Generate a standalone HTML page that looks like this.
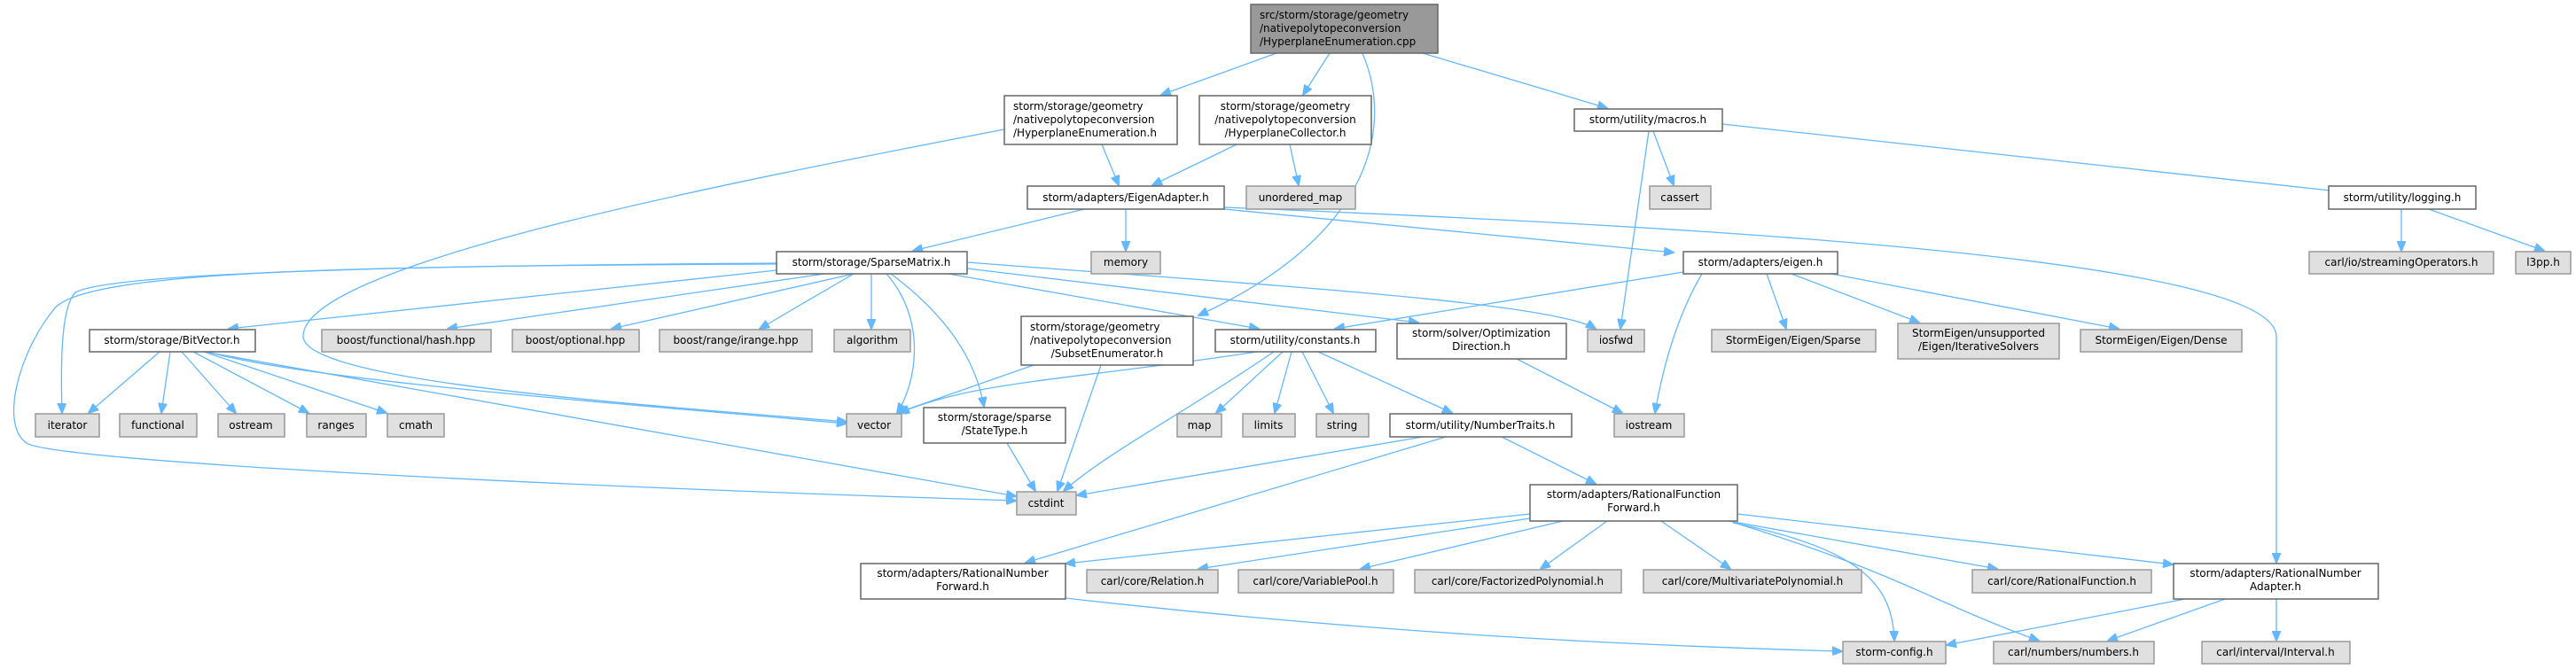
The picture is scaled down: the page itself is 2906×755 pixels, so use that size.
<!DOCTYPE html>
<html><head><meta charset="utf-8"><style>
html,body{margin:0;padding:0;background:#fff;}
svg{display:block;}
text{font-family:"DejaVu Sans","Liberation Sans",sans-serif;font-size:12px;fill:#000;}
.n{fill:#fff;stroke:#666;stroke-width:1.5;}
.e{fill:#e0e0e0;stroke:#999;stroke-width:1.5;}
.r{fill:#999;stroke:#666;stroke-width:1.5;}
path{fill:none;stroke:#63b8ff;stroke-width:1.3;}
</style></head><body>
<svg width="2906" height="755" viewBox="0 0 2906 755" xmlns="http://www.w3.org/2000/svg">
<defs><marker id="a" markerWidth="12" markerHeight="10" refX="11" refY="5" orient="auto" markerUnits="userSpaceOnUse"><path d="M0,0 L12,5 L0,10 z" style="fill:#63b8ff;stroke:#63b8ff;stroke-width:1"/></marker></defs>
<g marker-end="url(#a)">
<path d="M1440,60 L1310,107"/>
<path d="M1500,60 L1470,107"/>
<path d="M1537,60 C1575,150 1540,270 1352,356"/>
<path d="M1605,60 L1813,122"/>
<path d="M1243,163 L1262,209"/>
<path d="M1133,146 C800,210 340,300 342,380 C345,430 700,455 955,476"/>
<path d="M1395,163 L1300,209"/>
<path d="M1455,163 L1465,209"/>
<path d="M1860,148 L1828,371"/>
<path d="M1865,148 L1888,209"/>
<path d="M1943,140 L2656,218"/>
<path d="M2709,236 L2709,283"/>
<path d="M2740,236 L2870,283"/>
<path d="M1223,236 L1030,283"/>
<path d="M1270,236 L1270,283"/>
<path d="M1381,236 L1888,285"/>
<path d="M1381,234 C1900,255 2568,290 2568,380 L2568,635"/>
<path d="M876,305 L258,371"/>
<path d="M930,309 L505,371"/>
<path d="M963,309 L690,371"/>
<path d="M963,309 L857,371"/>
<path d="M983,309 L983,371"/>
<path d="M876,297 C400,300 120,310 85,330 C70,345 68,400 70,466"/>
<path d="M876,298 C400,300 90,305 60,350 C20,400 0,480 30,500 C60,520 600,548 1146,565"/>
<path d="M1000,309 C1045,360 1035,430 1012,466"/>
<path d="M1005,309 C1060,350 1100,400 1110,459"/>
<path d="M1070,309 L1420,371"/>
<path d="M1091,303 L1600,364"/>
<path d="M1091,296 C1400,320 1750,340 1800,371"/>
<path d="M180,397 L100,466"/>
<path d="M192,397 L182,466"/>
<path d="M205,397 L266,466"/>
<path d="M218,397 L348,466"/>
<path d="M230,397 L436,466"/>
<path d="M234,397 C350,430 700,455 955,478"/>
<path d="M236,398 L1146,560"/>
<path d="M1166,412 L1012,466"/>
<path d="M1242,412 L1193,554"/>
<path d="M1136,500 L1168,554"/>
<path d="M1418,397 C1200,430 1100,430 1015,466"/>
<path d="M1437,397 C1330,470 1250,510 1200,554"/>
<path d="M1447,397 L1372,466"/>
<path d="M1457,397 L1438,466"/>
<path d="M1469,397 L1504,466"/>
<path d="M1487,397 L1638,466"/>
<path d="M1711,405 L1830,466"/>
<path d="M1899,307 L1506,371"/>
<path d="M1920,309 C1890,360 1875,420 1867,466"/>
<path d="M1993,309 L2015,371"/>
<path d="M2021,309 L2165,364"/>
<path d="M2066,309 L2390,371"/>
<path d="M1605,493 L1215,559"/>
<path d="M1631,493 L1157,635"/>
<path d="M1694,493 L1800,546"/>
<path d="M1726,580 L1202,636"/>
<path d="M1726,585 L1352,642"/>
<path d="M1763,588 L1535,642"/>
<path d="M1813,588 L1738,642"/>
<path d="M1874,588 L1952,642"/>
<path d="M1950,588 L2253,642"/>
<path d="M1960,580 L2451,637"/>
<path d="M1955,590 C2100,620 2135,660 2137,723"/>
<path d="M1957,590 C2150,650 2180,680 2300,723"/>
<path d="M1202,675 C1600,720 1900,730 2078,735"/>
<path d="M2465,676 L2196,728"/>
<path d="M2510,676 L2378,723"/>
<path d="M2568,676 L2568,723"/>
</g>

<rect class="r" x="1411" y="5" width="211" height="55"/>
<text x="1421" y="21">src/storm/storage/geometry</text><text x="1421" y="36">/nativepolytopeconversion</text><text x="1421" y="51">/HyperplaneEnumeration.cpp</text>

<rect class="n" x="1133" y="108" width="195" height="55"/>
<text x="1143" y="124">storm/storage/geometry</text><text x="1143" y="139">/nativepolytopeconversion</text><text x="1143" y="154">/HyperplaneEnumeration.h</text>

<rect class="n" x="1353" y="108" width="194" height="55"/>
<text x="1450" y="124" text-anchor="middle">storm/storage/geometry</text><text x="1450" y="139" text-anchor="middle">/nativepolytopeconversion</text><text x="1450" y="154" text-anchor="middle">/HyperplaneCollector.h</text>

<rect class="n" x="1776" y="123" width="167" height="25"/><text x="1859" y="139" text-anchor="middle">storm/utility/macros.h</text>
<rect class="n" x="1159" y="210" width="222" height="26"/><text x="1270" y="227" text-anchor="middle">storm/adapters/EigenAdapter.h</text>
<rect class="e" x="1406" y="210" width="123" height="26"/><text x="1467" y="227" text-anchor="middle">unordered_map</text>
<rect class="e" x="1861" y="210" width="69" height="26"/><text x="1895" y="227" text-anchor="middle">cassert</text>
<rect class="n" x="2627" y="210" width="166" height="26"/><text x="2710" y="227" text-anchor="middle">storm/utility/logging.h</text>
<rect class="e" x="2605" y="284" width="208" height="25"/><text x="2709" y="300" text-anchor="middle">carl/io/streamingOperators.h</text>
<rect class="e" x="2838" y="284" width="62" height="25"/><text x="2869" y="300" text-anchor="middle">l3pp.h</text>

<rect class="e" x="1231" y="284" width="78" height="25"/><text x="1270" y="300" text-anchor="middle">memory</text>
<rect class="n" x="876" y="284" width="215" height="25"/><text x="983" y="300" text-anchor="middle">storm/storage/SparseMatrix.h</text>
<rect class="n" x="1899" y="284" width="174" height="25"/><text x="1986" y="300" text-anchor="middle">storm/adapters/eigen.h</text>

<rect class="n" x="101" y="372" width="187" height="25"/><text x="194" y="388" text-anchor="middle">storm/storage/BitVector.h</text>
<rect class="e" x="363" y="372" width="191" height="25"/><text x="458" y="388" text-anchor="middle">boost/functional/hash.hpp</text>
<rect class="e" x="578" y="372" width="143" height="25"/><text x="649" y="388" text-anchor="middle">boost/optional.hpp</text>
<rect class="e" x="744" y="372" width="172" height="25"/><text x="830" y="388" text-anchor="middle">boost/range/irange.hpp</text>
<rect class="e" x="941" y="372" width="86" height="25"/><text x="984" y="388" text-anchor="middle">algorithm</text>

<rect class="n" x="1152" y="357" width="194" height="55"/>
<text x="1162" y="373">storm/storage/geometry</text><text x="1162" y="388">/nativepolytopeconversion</text><text x="1249" y="403" text-anchor="middle">/SubsetEnumerator.h</text>
<rect class="n" x="1371" y="372" width="181" height="25"/><text x="1461" y="388" text-anchor="middle">storm/utility/constants.h</text>
<rect class="n" x="1576" y="365" width="191" height="40"/><text x="1671" y="380" text-anchor="middle">storm/solver/Optimization</text><text x="1671" y="395" text-anchor="middle">Direction.h</text>
<rect class="e" x="1791" y="372" width="64" height="25"/><text x="1823" y="388" text-anchor="middle">iosfwd</text>
<rect class="e" x="1931" y="372" width="185" height="25"/><text x="2023" y="388" text-anchor="middle">StormEigen/Eigen/Sparse</text>
<rect class="e" x="2141" y="365" width="182" height="40"/><text x="2232" y="380" text-anchor="middle">StormEigen/unsupported</text><text x="2232" y="395" text-anchor="middle">/Eigen/IterativeSolvers</text>
<rect class="e" x="2347" y="372" width="182" height="25"/><text x="2438" y="388" text-anchor="middle">StormEigen/Eigen/Dense</text>

<rect class="e" x="40" y="467" width="72" height="26"/><text x="76" y="484" text-anchor="middle">iterator</text>
<rect class="e" x="135" y="467" width="87" height="26"/><text x="178" y="484" text-anchor="middle">functional</text>
<rect class="e" x="246" y="467" width="75" height="26"/><text x="283" y="484" text-anchor="middle">ostream</text>
<rect class="e" x="346" y="467" width="67" height="26"/><text x="379" y="484" text-anchor="middle">ranges</text>
<rect class="e" x="437" y="467" width="64" height="26"/><text x="469" y="484" text-anchor="middle">cmath</text>
<rect class="e" x="955" y="467" width="62" height="26"/><text x="986" y="484" text-anchor="middle">vector</text>
<rect class="n" x="1042" y="460" width="160" height="40"/><text x="1122" y="475" text-anchor="middle">storm/storage/sparse</text><text x="1122" y="490" text-anchor="middle">/StateType.h</text>
<rect class="e" x="1328" y="467" width="50" height="26"/><text x="1353" y="484" text-anchor="middle">map</text>
<rect class="e" x="1402" y="467" width="59" height="26"/><text x="1431" y="484" text-anchor="middle">limits</text>
<rect class="e" x="1485" y="467" width="59" height="26"/><text x="1514" y="484" text-anchor="middle">string</text>
<rect class="n" x="1568" y="467" width="205" height="26"/><text x="1670" y="484" text-anchor="middle">storm/utility/NumberTraits.h</text>
<rect class="e" x="1821" y="467" width="79" height="26"/><text x="1860" y="484" text-anchor="middle">iostream</text>

<rect class="e" x="1147" y="555" width="67" height="26"/><text x="1180" y="572" text-anchor="middle">cstdint</text>
<rect class="n" x="1726" y="547" width="234" height="41"/><text x="1843" y="562" text-anchor="middle">storm/adapters/RationalFunction</text><text x="1843" y="577" text-anchor="middle">Forward.h</text>

<rect class="n" x="971" y="636" width="231" height="40"/><text x="1086" y="651" text-anchor="middle">storm/adapters/RationalNumber</text><text x="1086" y="666" text-anchor="middle">Forward.h</text>
<rect class="e" x="1226" y="643" width="148" height="26"/><text x="1300" y="660" text-anchor="middle">carl/core/Relation.h</text>
<rect class="e" x="1397" y="643" width="175" height="26"/><text x="1484" y="660" text-anchor="middle">carl/core/VariablePool.h</text>
<rect class="e" x="1596" y="643" width="233" height="26"/><text x="1712" y="660" text-anchor="middle">carl/core/FactorizedPolynomial.h</text>
<rect class="e" x="1854" y="643" width="246" height="26"/><text x="1977" y="660" text-anchor="middle">carl/core/MultivariatePolynomial.h</text>
<rect class="e" x="2225" y="643" width="202" height="26"/><text x="2326" y="660" text-anchor="middle">carl/core/RationalFunction.h</text>
<rect class="n" x="2452" y="636" width="231" height="40"/><text x="2567" y="651" text-anchor="middle">storm/adapters/RationalNumber</text><text x="2567" y="666" text-anchor="middle">Adapter.h</text>

<rect class="e" x="2079" y="724" width="116" height="25"/><text x="2137" y="740" text-anchor="middle">storm-config.h</text>
<rect class="e" x="2249" y="724" width="181" height="25"/><text x="2339" y="740" text-anchor="middle">carl/numbers/numbers.h</text>
<rect class="e" x="2484" y="724" width="167" height="25"/><text x="2567" y="740" text-anchor="middle">carl/interval/Interval.h</text>
</svg>
</body></html>
